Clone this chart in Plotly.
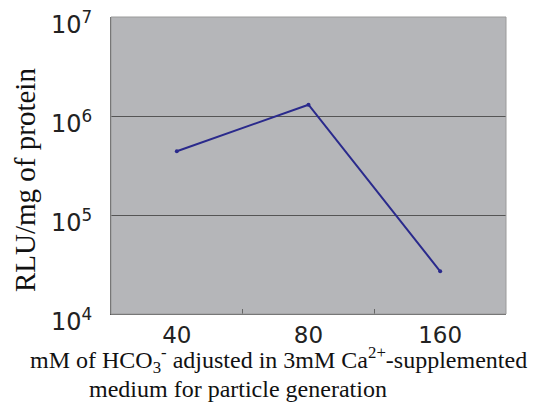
import plotly.graph_objects as go

categories = ["40", "80", "160"]
rlu_values = [4.4e5, 1.3e6, 2.7e4]
y_tick_vals = [1e4, 1e5, 1e6, 1e7]
y_tick_text = ["10<sup>4</sup>", "10<sup>5</sup>", "10<sup>6</sup>", "10<sup>7</sup>"]

# page body adds an 8px offset; compensate so the picture lands like the reference
OFF = 8
L, R, T, B = 111 - OFF, 42, 17 - OFF, 90
W, H = 548 - OFF, 404 - OFF
pw, ph = W - L - R, H - T - B

def px_x(x):
    return (x - OFF - L) / pw

def px_y(y):
    return 1 - (y - OFF - T) / ph

fig = go.Figure()
fig.add_trace(go.Scatter(
    x=categories, y=rlu_values, mode="lines+markers",
    line=dict(color="#2a2a8c", width=2),
    marker=dict(color="#2a2a8c", size=4),
    showlegend=False,
))

sans = "DejaVu Sans"
serif = "Liberation Serif"

fig.update_layout(
    template="none",
    width=W, height=H,
    margin=dict(l=L, r=R, t=T, b=B, autoexpand=False),
    paper_bgcolor="white",
    plot_bgcolor="#b5b6b9",
    xaxis=dict(
        type="category", range=[-0.5, 2.5], automargin=False,
        tickson="boundaries", ticks="inside", ticklen=5, tickcolor="#666",
        showgrid=False, showline=True, linecolor="#555", linewidth=1, mirror=False,
        zeroline=False, ticklabeloverflow="allow",
        tickfont=dict(family=sans, size=23, color="#222"),
    ),
    yaxis=dict(
        type="log", range=[3.9999, 7.0001], automargin=False,
        tickvals=y_tick_vals, ticktext=y_tick_text,
        ticks="", showgrid=True, gridcolor="#555", gridwidth=1,
        showline=True, linecolor="#555", linewidth=1, zeroline=False,
        ticklabelstandoff=13, ticklabelshift=8, ticklabeloverflow="allow",
        tickfont=dict(family=sans, size=24, color="#222"),
    ),
    annotations=[
        dict(text="RLU/mg of protein", textangle=-90,
             xref="paper", yref="paper", x=px_x(25), y=px_y(180),
             xanchor="center", yanchor="middle", showarrow=False,
             font=dict(family=serif, size=29, color="#111")),
        dict(text="mM of HCO<sub>3</sub><sup>-</sup> adjusted in 3mM Ca<sup>2+</sup>-supplemented",
             xref="paper", yref="paper", x=px_x(278), y=px_y(379),
             xanchor="center", yanchor="bottom", showarrow=False,
             font=dict(family=serif, size=24, color="#111")),
        dict(text="medium for particle generation",
             xref="paper", yref="paper", x=px_x(87), y=px_y(404),
             xanchor="left", yanchor="bottom", showarrow=False,
             font=dict(family=serif, size=24, color="#111")),
    ],
)
fig.add_shape(type="rect", xref="paper", yref="paper", x0=0, y0=0, x1=1, y1=1,
              line=dict(color="#9a9a9a", width=1))

fig.write_html("out.html")
